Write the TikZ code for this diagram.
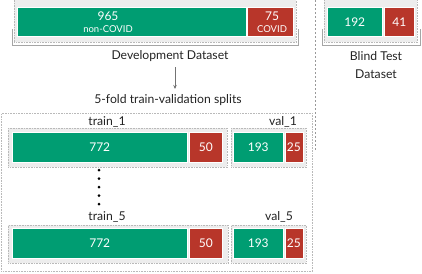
\documentclass[tikz,border=0pt]{standalone}
\usepackage{fontspec}
\setmainfont{Lato}
\usetikzlibrary{arrows.meta}
\definecolor{cgreen}{RGB}{0,157,114}
\definecolor{cred}{RGB}{184,54,42}
\definecolor{cpanel}{RGB}{237,237,237}
\definecolor{cdot}{RGB}{185,185,185}
\definecolor{cbrack}{RGB}{165,165,165}
\definecolor{ctext}{RGB}{35,35,35}
\tikzset{
  panel/.style={rectangle, fill=cpanel, draw=cdot, densely dotted, line width=0.6pt, inner sep=0, anchor=north west},
  bar/.style={rectangle, draw=white, line width=0.5pt, inner sep=0, anchor=north west, text=white, font=\fontsize{12}{13}\selectfont},
  gbar/.style={bar, fill=cgreen},
  rbar/.style={bar, fill=cred},
  lbl/.style={text=ctext, font=\fontsize{12.2}{13}\selectfont, inner sep=0},
  small/.style={text=white, font=\fontsize{9.5}{10}\selectfont, inner sep=0},
  big/.style={text=white, font=\fontsize{12}{13}\selectfont, inner sep=0},
  bracket/.style={draw=cbrack, line width=0.8pt},
  sep/.style={draw=gray!80, line width=0.7pt, dash pattern=on 2pt off 2pt},
  arr/.style={draw=gray!90!black, line width=0.7pt, -{Stealth[length=4pt,width=3.5pt]}},
  vdot/.style={circle, fill=black, inner sep=0, minimum size=3pt},
}
\begin{document}
\begin{tikzpicture}[x=1pt,y=-1pt]
\useasboundingbox (0,0) rectangle (422,273);
% development dataset
\draw[bracket] (12,29) -- (12,45) -- (298,45) -- (298,29);
\node[panel, minimum width=282pt, minimum height=44pt] (dev) at (14,-2) {};
\node[gbar, minimum width=229pt, minimum height=29pt] (devg) at (17,7) {};
\node[rbar, minimum width=46pt, minimum height=29pt] (devr) at (247,7) {};
\node[big] (devgn) at (108,16) {965};
\node[small] (devgt) at (108,29) {non-COVID};
\node[big] (devrn) at (272,16) {75};
\node[small] (devrt) at (272,29) {COVID};
\node[lbl] (devlabel) at (170,56) {Development Dataset};
% separator
\coordinate (septop) at (315,0);
\coordinate (sepbot) at (315,150);
\draw[sep] (septop) -- (sepbot);
% blind test
\draw[bracket] (322,29) -- (322,45) -- (420,45) -- (420,29);
\node[panel, minimum width=93pt, minimum height=44pt] (blind) at (324,-2) {};
\node[gbar, minimum width=55pt, minimum height=29pt] (blindg) at (327,7) {192};
\node[rbar, minimum width=30pt, minimum height=29pt] (blindr) at (384,7) {41};
\node[lbl] (blindlabel1) at (376,56) {Blind Test};
\node[lbl] (blindlabel2) at (376,74) {Dataset};
% arrow
\node[lbl] (splitlabel) at (168,100) {5-fold train-validation splits};
\coordinate (arrtop) at (175,67);
\coordinate (arrbot) at (175,89);
\draw[arr] (arrtop) -- (arrbot);
% big box
\node[panel, fill=none, minimum width=311pt, minimum height=158pt] (folds) at (1,113) {};
% fold 1
\node[lbl] (t1label) at (107,122) {train\_1};
\node[lbl] (v1label) at (283,122) {val\_1};
\node[panel, minimum width=219pt, minimum height=39pt] (t1) at (8,128) {};
\node[gbar, minimum width=175pt, minimum height=30pt] (t1g) at (12,132) {772};
\node[rbar, minimum width=33pt, minimum height=30pt] (t1r) at (189,132) {50};
\node[panel, minimum width=75pt, minimum height=39pt] (v1) at (231,128) {};
\node[gbar, minimum width=50pt, minimum height=30pt] (v1g) at (233,132) {193};
\node[rbar, minimum width=18pt, minimum height=30pt] (v1r) at (284.5,132) {25};
% dots
\node[vdot] (d1) at (99,170) {};
\node[vdot] (d2) at (99,178.5) {};
\node[vdot] (d3) at (99,187) {};
\node[vdot] (d4) at (99,195.5) {};
\node[vdot] (d5) at (99,204) {};
% fold 5
\node[lbl] (t5label) at (107,217) {train\_5};
\node[lbl] (v5label) at (279,217) {val\_5};
\node[panel, minimum width=220pt, minimum height=38pt] (t5) at (8,225) {};
\node[gbar, minimum width=175pt, minimum height=30pt] (t5g) at (12,228) {772};
\node[rbar, minimum width=33pt, minimum height=30pt] (t5r) at (189,228) {50};
\node[panel, minimum width=75pt, minimum height=38pt] (v5) at (231,225) {};
\node[gbar, minimum width=50pt, minimum height=30pt] (v5g) at (233,228) {193};
\node[rbar, minimum width=18pt, minimum height=30pt] (v5r) at (284.5,228) {25};
\end{tikzpicture}
\end{document}
